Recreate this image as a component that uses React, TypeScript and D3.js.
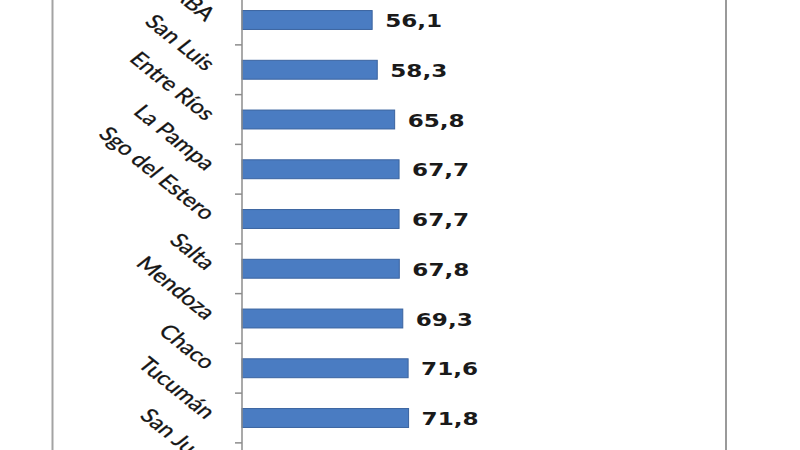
import React, { useEffect, useRef } from 'react';
import * as d3 from 'd3';

// visible part of the chart (cropped screenshot)
const provinces = ['CABA', 'San Luis', 'Entre Ríos', 'La Pampa', 'Sgo del Estero', 'Salta', 'Mendoza', 'Chaco', 'Tucumán', 'San Juan'];
// San Juan's bar and value sit below the crop
const values = [56.1, 58.3, 65.8, 67.7, 67.7, 67.8, 69.3, 71.6, 71.8];

const W = 800;
const H = 450;
const STRETCH = 1.25; // the source image is stretched horizontally

const App: React.FC = () => {
  const svgRef = useRef<SVGSVGElement>(null);

  useEffect(() => {
    if (!svgRef.current) return;
    const svg = d3.select(svgRef.current);
    svg.selectAll('*').remove();

    svg.append('rect').attr('width', W).attr('height', H).attr('fill', '#fff');

    // frame of the original chart
    svg.append('line')
      .attr('x1', 52.5).attr('x2', 52.5).attr('y1', 0).attr('y2', H)
      .attr('stroke', '#a3a3a3').attr('stroke-width', 2);
    svg.append('line')
      .attr('x1', 726).attr('x2', 726).attr('y1', 0).attr('y2', H)
      .attr('stroke', '#9a9a9a').attr('stroke-width', 2);

    const axisX = 242;
    const step = 49.75;
    const y0 = 20 - step / 2;

    const y = d3.scaleBand<string>()
      .domain(provinces)
      .range([y0, y0 + step * provinces.length])
      .paddingInner(0.62)
      .paddingOuter(0.31);

    const x = d3.scaleLinear().domain([0, 100]).range([axisX, axisX + 232]);

    // bars
    svg.append('g').selectAll('rect')
      .data(values)
      .join('rect')
      .attr('x', x(0))
      .attr('y', (d, i) => y(provinces[i])!)
      .attr('width', d => x(d) - x(0))
      .attr('height', y.bandwidth())
      .attr('fill', '#4a7cc2')
      .attr('stroke', '#3a639f')
      .attr('stroke-width', 1);

    // category axis
    svg.append('line')
      .attr('x1', axisX).attr('x2', axisX).attr('y1', 0).attr('y2', H)
      .attr('stroke', '#8c8c8c').attr('stroke-width', 1.5);

    const tickYs = [y0, ...provinces.map(p => y(p)! - y.step() * 0.31 + y.step())];
    svg.append('g').selectAll('line')
      .data(tickYs)
      .join('line')
      .attr('x1', axisX - 7).attr('x2', axisX)
      .attr('y1', d => d).attr('y2', d => d)
      .attr('stroke', '#8c8c8c').attr('stroke-width', 1.5);

    // rotated category labels
    svg.append('g').selectAll('text')
      .data(provinces)
      .join('text')
      .attr('transform', p => `translate(${axisX - 37},${y(p)! + y.bandwidth() / 2 + 2}) scale(${STRETCH},1) rotate(45)`)
      .attr('text-anchor', 'end')
      .attr('font-family', 'Lato, "Open Sans", sans-serif')
      .attr('font-size', 19.5)
      .attr('fill', '#151515')
      .attr('stroke', '#151515')
      .attr('stroke-width', 0.3)
      .text(p => p);

    // value labels
    svg.append('g').selectAll('text')
      .data(values)
      .join('text')
      .attr('transform', (d, i) => `translate(${x(d) + 13},${y(provinces[i])! + y.bandwidth() / 2 + 7}) scale(${STRETCH},1)`)
      .attr('font-family', '"DejaVu Sans", Verdana, sans-serif')
      .attr('font-weight', 'bold')
      .attr('font-size', 18.5)
      .attr('fill', '#1a1a1a')
      .text(d => d3.format('.1f')(d).replace('.', ','));
  }, []);

  return (
    <div style={{ position: 'fixed', left: 0, top: 0, width: W, height: H }}>
      <svg ref={svgRef} width={W} height={H} />
    </div>
  );
};

export default App;
